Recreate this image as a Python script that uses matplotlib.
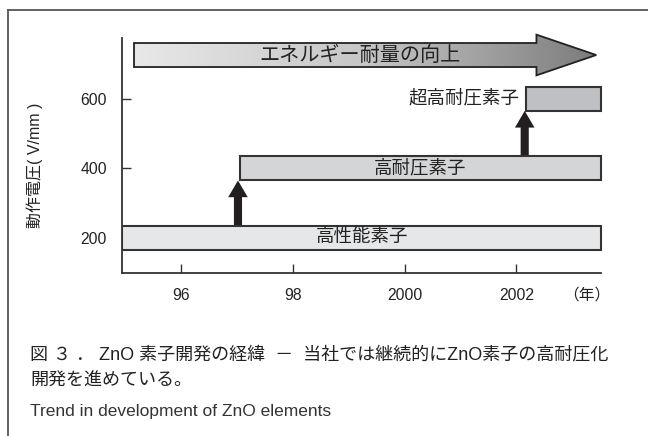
import numpy as np
import matplotlib
matplotlib.use("Agg")
import matplotlib.pyplot as plt
from matplotlib.patches import Polygon
from matplotlib.lines import Line2D
from matplotlib.colors import LinearSegmentedColormap

plt.rcParams['font.family'] = ['Liberation Sans', 'Noto Sans CJK JP']

# element generations: name, first year, operating voltage (V/mm)
elements = ['高性能素子', '高耐圧素子', '超高耐圧素子']
start_year = [1994.95, 1997.05, 2002.18]
end_year = [2003.52, 2003.52, 2003.52]
voltage = [200, 400, 600]
band = [70, 70, 70]
fills = ['#e6e7e9', '#d4d5d7', '#bfc0c3']

year_ticks = [1996, 1998, 2000, 2002]
year_labels = ['96', '98', '2000', '2002']
volt_ticks = [200, 400, 600]

fig = plt.figure(figsize=(6.48, 4.36), dpi=100)
ax = fig.add_axes([0.1887, 0.3745, 0.7461, 0.5588])
ax.set_xlim(1994.95, 2003.6)
ax.set_ylim(100, 800)

edge = '#333333'
for s in ['top', 'right']:
    ax.spines[s].set_visible(False)
for s in ['left', 'bottom']:
    ax.spines[s].set_color(edge)
    ax.spines[s].set_linewidth(1.3)
ax.spines['left'].set_bounds(100, 775)
ax.spines['bottom'].set_bounds(1994.95, 2003.52)

ax.set_xticks(year_ticks)
ax.set_xticklabels(year_labels)
ax.set_yticks(volt_ticks)
ax.tick_params(axis='both', direction='in', length=6.5, width=1.0, color=edge,
               labelsize=11.3, labelcolor='#222222')
ax.tick_params(axis='x', pad=11)
ax.tick_params(axis='y', pad=11)

# step arrows between generations
for i in range(len(voltage) - 1):
    x = start_year[i + 1]
    y0 = voltage[i] + band[i] / 2
    y1 = voltage[i + 1] - band[i + 1] / 2
    ax.arrow(x - 0.03, y0, 0, y1 - y0, width=0.145, head_width=0.35,
             head_length=48, length_includes_head=True,
             facecolor='#231f20', edgecolor='none', zorder=2)

# element bars
ax.barh(voltage, np.subtract(end_year, start_year), left=start_year,
        height=band, color=fills, edgecolor=edge, linewidth=1.5, zorder=3)

lab = dict(va='center', fontsize=13.3, color='#222222', zorder=4)
ax.text((start_year[0] + end_year[0]) / 2, voltage[0], elements[0], ha='center', **lab)
ax.text((start_year[1] + end_year[1]) / 2, voltage[1], elements[1], ha='center', **lab)
ax.text(start_year[2] - 0.13, voltage[2], elements[2], ha='right', **lab)

# big trend arrow with grey gradient
x0, xh, xt = 1995.16, 2002.36, 2003.43
ylo, yhi, hlo, hhi = 691, 760, 667, 784
ymid = (ylo + yhi) / 2
arrow = Polygon([(x0, ylo), (xh, ylo), (xh, hlo), (xt, ymid),
                 (xh, hhi), (xh, yhi), (x0, yhi)], closed=True,
                facecolor='none', edgecolor='#222222', linewidth=1.3, zorder=5)
ax.add_patch(arrow)
cmap = LinearSegmentedColormap.from_list('trend', ['#e8e8e8', '#c6c6c6', '#7c7c7c'])
grad = np.linspace(0, 1, 256).reshape(1, -1)
im = ax.imshow(grad, cmap=cmap, aspect='auto', extent=[x0, xt, hlo, hhi], zorder=4)
im.set_clip_path(arrow)
ax.set_xlim(1994.95, 2003.6)
ax.set_ylim(100, 800)
ax.text(1999.2, ymid, 'エネルギー耐量の向上', ha='center', va='center',
        fontsize=14.5, color='#222222', zorder=6)

ax.set_ylabel('動作電圧( V/mm )', fontsize=11.5, color='#222222')
ax.yaxis.set_label_coords(-0.165, 0.44)
ax.text(0.9605, -0.0915, '（年）', transform=ax.transAxes, ha='center',
        va='center', fontsize=11.3, color='#222222')

# caption
fig.text(0.047, 1 - 355 / 436, '図 ３ ． ZnO 素子開発の経緯  －  当社では継続的にZnO素子の高耐圧化',
         ha='left', va='center', fontsize=13, color='#222222')
fig.text(0.047, 1 - 381 / 436, '開発を進めている。', ha='left', va='center',
         fontsize=13, color='#222222')
fig.text(0.047, 1 - 411 / 436, 'Trend in development of ZnO elements', ha='left',
         va='center', fontsize=12.5, color='#333333')

# frame lines
fig.add_artist(Line2D([8 / 648, 8 / 648], [0, 1 - 10 / 436], color='#555555', lw=1.3))
fig.add_artist(Line2D([8 / 648, 1], [1 - 10 / 436, 1 - 10 / 436], color='#555555', lw=1.3))

fig.savefig('out.png', dpi=100)
